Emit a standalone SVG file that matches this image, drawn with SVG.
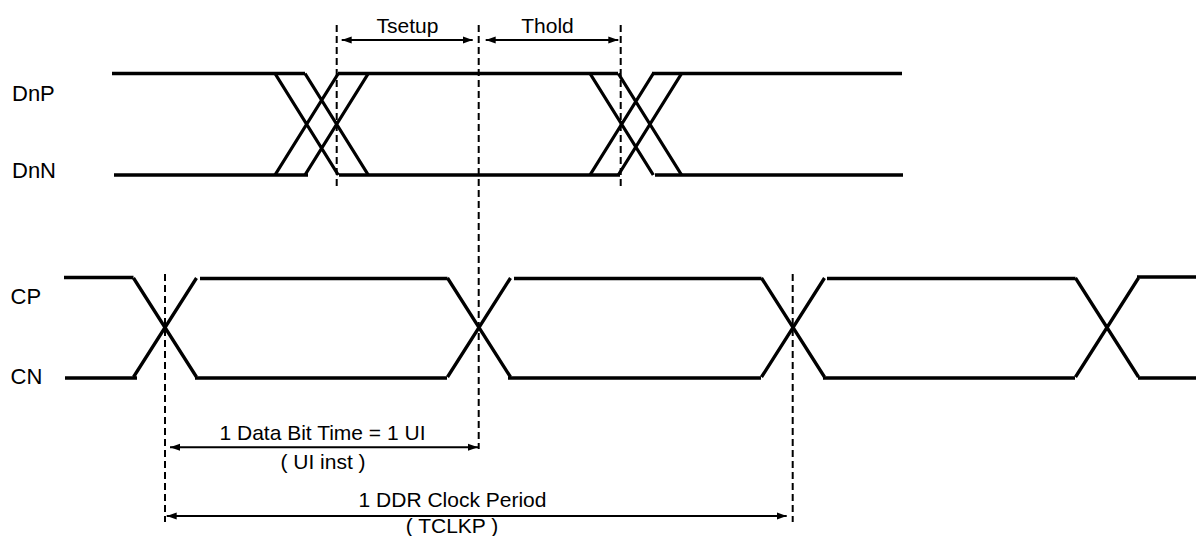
<svg xmlns="http://www.w3.org/2000/svg" width="1196" height="536" viewBox="0 0 1196 536">
  <style>
    .sig { stroke: #000; stroke-width: 3.3; fill: none; stroke-linecap: butt; }
    .dash { stroke: #000; stroke-width: 2; stroke-dasharray: 7 4; fill: none; }
    .dim { stroke: #000; stroke-width: 2; fill: none; marker-start: url(#ah); marker-end: url(#ah); }
    .lbl { font-family: "Liberation Sans", Arial, sans-serif; font-size: 22px; fill: #000; }
    .ann { font-family: "Liberation Sans", Arial, sans-serif; font-size: 21px; fill: #000; text-anchor: middle; }
  </style>
  <defs>
    <marker id="ah" markerUnits="userSpaceOnUse" markerWidth="11" markerHeight="8" refX="10" refY="4" orient="auto-start-reverse">
      <path d="M0,0.5 L10,4 L0,7.5 Z" fill="#000"/>
    </marker>
  </defs>
  <rect width="1196" height="536" fill="#fff"/>

  <g id="DnP">
    <text class="lbl" x="12" y="101">DnP</text>
    <path class="sig" d="M112,73.5 H305 M338,73.5 H618 M652,73.5 H902"/>
  </g>
  <g id="DnN">
    <text class="lbl" x="12" y="178">DnN</text>
    <path class="sig" d="M114,175 H308 M339,175 H620 M655,175 H903"/>
  </g>
  <g id="data-transitions">
    <path class="sig" d="M275,73.5 L338.3,175 M305,73.5 L368.3,175 M275,175 L338.3,73.5 M305,175 L368.3,73.5"/>
    <path class="sig" d="M590,73.5 L653.3,175 M618.3,73.5 L681.6,175 M590,175 L653.3,73.5 M618.3,175 L681.6,73.5"/>
  </g>

  <g id="CP">
    <text class="lbl" x="10.5" y="304">CP</text>
    <path class="sig" d="M64,277.5 H133.5 M200,278.5 H447.5 M514,278.5 H761.5 M827,278.5 H1075.5 M1137,277 H1196"/>
  </g>
  <g id="CN">
    <text class="lbl" x="10.5" y="383.5">CN</text>
    <path class="sig" d="M65,378 H137 M195,378 H447 M508,378 H761 M823,378 H1075 M1138,378 H1196"/>
  </g>
  <g id="clock-transitions">
    <path class="sig" d="M133.5,278 L196.5,377 M133.5,377 L196.5,278"/>
    <path class="sig" d="M447.5,278 L510.5,377 M447.5,377 L510.5,278"/>
    <path class="sig" d="M761.5,278 L824.5,377 M761.5,377 L824.5,278"/>
    <path class="sig" d="M1075.5,278 L1138.5,377 M1075.5,377 L1138.5,278"/>
  </g>

  <g id="connectors">
    <line class="dash" x1="336.7" y1="25" x2="336.7" y2="186"/>
    <line class="dash" x1="478.7" y1="25" x2="478.7" y2="449"/>
    <line class="dash" x1="620.7" y1="25" x2="620.7" y2="186"/>
    <line class="dash" x1="165" y1="274" x2="165" y2="522"/>
    <line class="dash" x1="792.7" y1="274" x2="792.7" y2="522"/>
    <line class="dim" x1="341.7" y1="40" x2="472.7" y2="40"/>
    <line class="dim" x1="485.7" y1="40" x2="618.3" y2="40"/>
    <line class="dim" x1="170" y1="447.3" x2="478" y2="447.3"/>
    <line class="dim" x1="166.7" y1="516" x2="786.7" y2="516"/>
  </g>

  <g id="annotations">
    <text class="ann" x="407.5" y="33.3">Tsetup</text>
    <text class="ann" x="547.5" y="33.3">Thold</text>
    <text class="ann" x="322.5" y="440">1 Data Bit Time = 1 UI</text>
    <text class="ann" x="323" y="468.5">( UI inst )</text>
    <text class="ann" x="452.5" y="507">1 DDR Clock Period</text>
    <text class="ann" x="452" y="533">( TCLKP )</text>
  </g>
</svg>
